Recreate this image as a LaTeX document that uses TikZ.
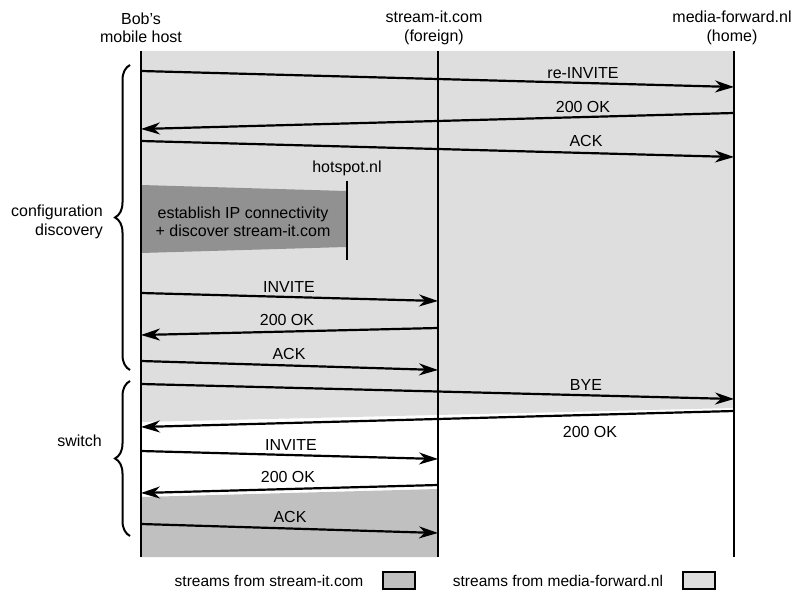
\documentclass[tikz,border=0pt]{standalone}
\usepackage{fontspec}
\setmainfont{Liberation Sans}
\usetikzlibrary{arrows.meta,decorations.pathreplacing}
\definecolor{mfgray}{RGB}{222,222,222}
\definecolor{sigray}{RGB}{192,192,192}
\definecolor{hsgray}{RGB}{145,145,145}
\begin{document}
\begin{tikzpicture}[x=1pt,y=-1pt,
  lifeline/.style={line width=2.6pt},
  msg/.style={line width=2.2pt,-{Stealth[length=19pt,width=12pt,inset=6pt]}},
  lbl/.style={inner sep=0pt,font=\fontsize{16}{18.5}\selectfont},
  hdr/.style={lbl,align=center},
  brc/.style={decorate,decoration={brace,amplitude=15pt},line width=2pt},
  legbox/.style={draw,line width=2.4pt,minimum width=32pt,minimum height=17pt,inner sep=0pt},
  legtxt/.style={inner sep=0pt,font=\fontsize{15.5}{18}\selectfont}]
\useasboundingbox (0,0) rectangle (793,591);

% lifeline end points
\coordinate (bT) at (141,51);  \coordinate (bB) at (141,557);
\coordinate (sT) at (438,51);  \coordinate (sB) at (438,557);
\coordinate (mT) at (734,51);  \coordinate (mB) at (734,557);

% media streams from media-forward.nl
\fill[mfgray] (bT) -- (mT) -- (734,408) -- (141,422) -- cycle;
% media streams from stream-it.com
\fill[sigray] (141,497) -- (438,489) -- (sB) -- (bB) -- cycle;
% hotspot attachment phase
\fill[hsgray] (141,185) -- (346,191) -- (346,247) -- (141,253) -- cycle;

% lifelines
\draw[lifeline] (bT) -- (bB);
\draw[lifeline] (sT) -- (sB);
\draw[lifeline] (mT) -- (mB);
\coordinate (hT) at (347,181); \coordinate (hB) at (347,260);
\draw[lifeline] (hT) -- (hB);

% headers
\node[hdr] (bob) at (141,28) {Bob’s\\mobile host};
\node[hdr] (sit) at (434,28) {stream-it.com\\(foreign)};
\node[hdr] (mfw) at (732,28) {media-forward.nl\\(home)};
\node[lbl] (hsp) at (347,168) {hotspot.nl};
\node[hdr] (hstxt) at (243,222) {establish IP connectivity\\+ discover stream-it.com};

% message end points
\coordinate (b1) at (141,71);  \coordinate (m1) at (734,87);
\coordinate (m2) at (734,113); \coordinate (b2) at (141,129);
\coordinate (b3) at (141,141); \coordinate (m3) at (734,157);
\coordinate (b4) at (141,293); \coordinate (s4) at (438,301);
\coordinate (s5) at (438,328); \coordinate (b5) at (141,335);
\coordinate (b6) at (141,361); \coordinate (s6) at (438,370);
\coordinate (b7) at (141,384); \coordinate (m7) at (734,399);
\coordinate (m8) at (734,411); \coordinate (b8) at (141,427);
\coordinate (b9) at (141,451); \coordinate (s9) at (438,459);
\coordinate (s10) at (438,485); \coordinate (b10) at (141,493);
\coordinate (b11) at (141,524); \coordinate (s11) at (438,533);

% messages
\draw[msg] (b1) -- (m1);
\draw[msg] (m2) -- (b2);
\draw[msg] (b3) -- (m3);
\draw[msg] (b4) -- (s4);
\draw[msg] (s5) -- (b5);
\draw[msg] (b6) -- (s6);
\draw[msg] (b7) -- (m7);
\draw[msg] (m8) -- (b8);
\draw[msg] (b9) -- (s9);
\draw[msg] (s10) -- (b10);
\draw[msg] (b11) -- (s11);

% message labels
\node[lbl] (l1) at (583,73) {re-INVITE};
\node[lbl] (l2) at (583,107) {200 OK};
\node[lbl] (l3) at (586,141) {ACK};
\node[lbl] (l4) at (289,287) {INVITE};
\node[lbl] (l5) at (287,320) {200 OK};
\node[lbl] (l6) at (289,354) {ACK};
\node[lbl] (l7) at (586,385) {BYE};
\node[lbl] (l8) at (590,432) {200 OK};
\node[lbl] (l9) at (291,445) {INVITE};
\node[lbl] (l10) at (288,477) {200 OK};
\node[lbl] (l11) at (290,517) {ACK};

% phase braces
\coordinate (c1) at (130,370); \coordinate (c2) at (130,65);
\draw[brc] (c1) -- (c2);
\coordinate (w1) at (130,536); \coordinate (w2) at (130,381);
\draw[brc] (w1) -- (w2);
\node[hdr,align=right,anchor=east] (cfg) at (103,222) {configuration\\discovery};
\node[lbl,anchor=east] (swt) at (102,441) {switch};

% legend
\node[legtxt] (lt1) at (269,581) {streams from stream-it.com};
\node[legbox,fill=sigray] (lb1) at (399,580.5) {};
\node[legtxt] (lt2) at (558,581) {streams from media-forward.nl};
\node[legbox,fill=mfgray] (lb2) at (699,580.5) {};
\end{tikzpicture}
\end{document}
